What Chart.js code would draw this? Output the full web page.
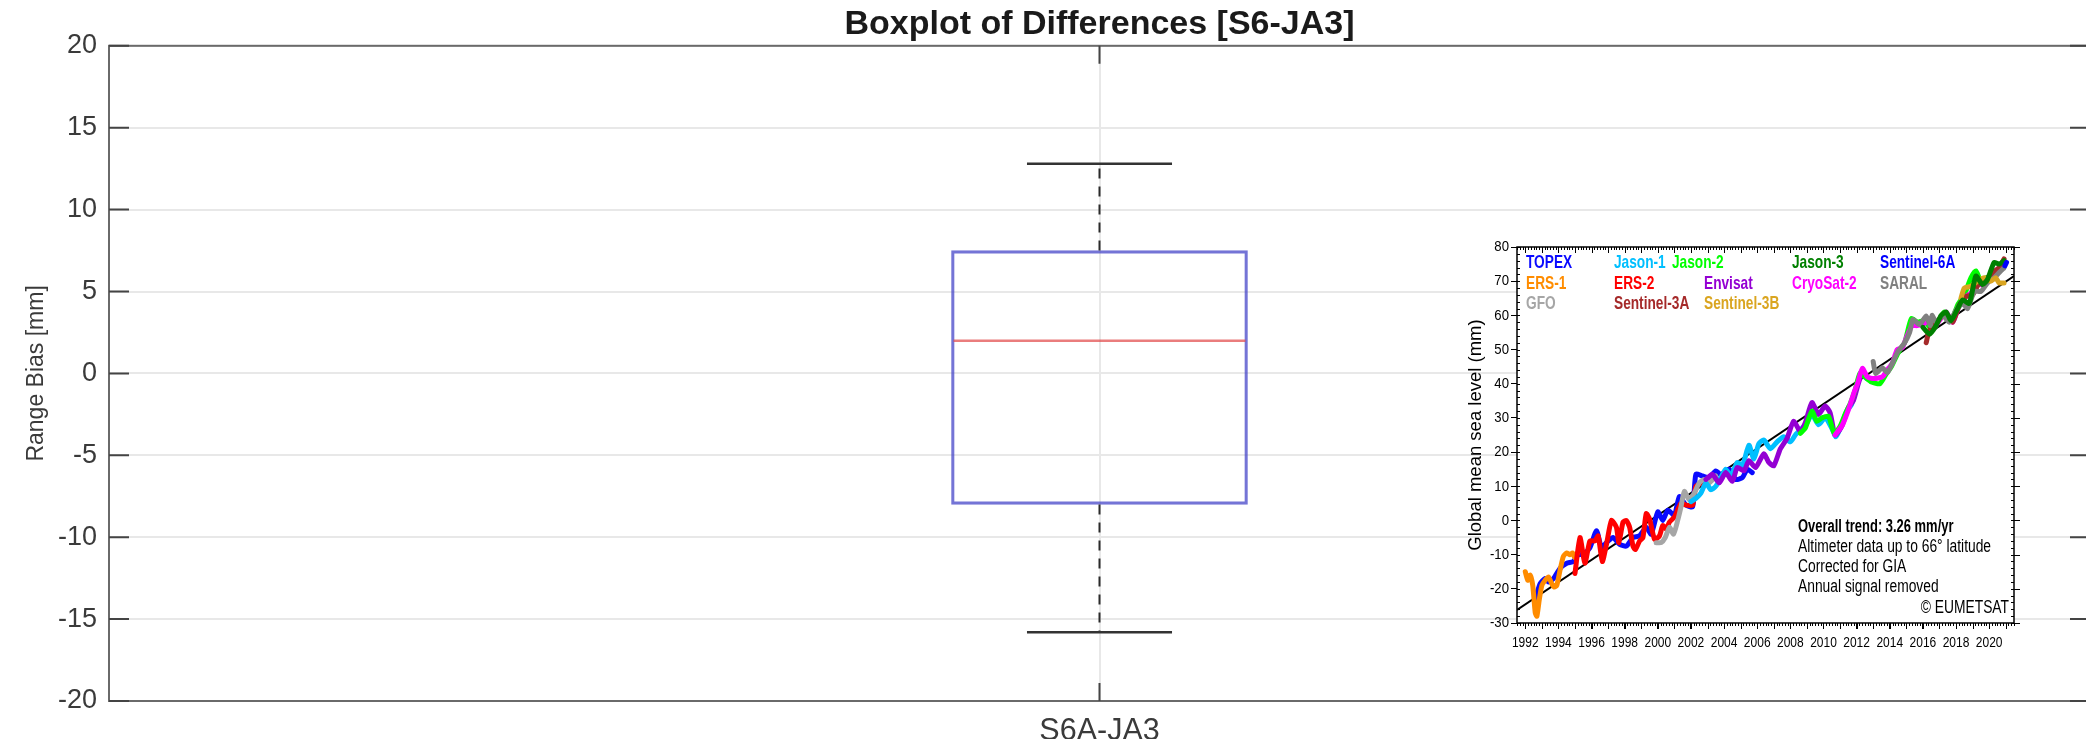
<!DOCTYPE html>
<html>
<head>
<meta charset="utf-8">
<script src="https://cdn.jsdelivr.net/npm/chart.js@4.4.0/dist/chart.umd.min.js"></script>
<style>
  html, body { margin: 0; padding: 0; background: #fff; overflow: hidden; }
  #main { position: absolute; left: 0; top: 0; width: 2100px; height: 739px; }
  #inset { position: absolute; left: 1440px; top: 230px; width: 590px; height: 430px; }
</style>
</head>
<body>
<div id="main"><canvas id="boxChart"></canvas></div>
<div id="inset"><canvas id="gmslChart"></canvas></div>
<script>
// ---- boxplot values ----
const boxLabels = ['S6A-JA3'];
const boxMin = [-15.8];
const boxQ1 = [-8];
const boxMedian = [2];
const boxQ3 = [7.5];
const boxMax = [12.8];

// ---- inset: global mean sea level (year, mm) ----
const insetYears = [1992, 1994, 1996, 1998, 2000, 2002, 2004, 2006, 2008, 2010, 2012, 2014, 2016, 2018, 2020];
const insetLevels = [-30, -20, -10, 0, 10, 20, 30, 40, 50, 60, 70, 80];
const trendLine = [[1991.5, -26.2], [2021.5, 71.5]];

const topex = [[1992.6,-23],[1992.9,-18.5],[1993.2,-17],[1993.4,-18],[1993.7,-17],[1994.1,-14],[1994.5,-12.5],[1994.9,-12],
  [1995.2,-10],[1995.5,-10],[1995.9,-8],[1996.3,-3],[1996.6,-8],[1996.9,-6.5],[1997.3,-5],[1997.7,-7],[1998.1,-7.5],
  [1998.5,-5],[1998.9,-4.5],[1999.3,-2],[1999.6,-4],[2000.0,2.5],[2000.3,0],[2000.6,3],[2001.0,1.5],[2001.3,7],
  [2001.7,4.5],[2002.1,4],[2002.3,13.5],[2002.7,13],[2003.1,12.5],[2003.5,14.5],[2003.9,13],[2004.3,15],[2004.7,12],
  [2005.1,12.5],[2005.4,15],[2005.7,14]];
const ers1 = [[1992.0,-15],[1992.15,-17.5],[1992.3,-16],[1992.45,-19],[1992.6,-27],[1992.7,-28],[1992.85,-23],[1993.0,-19],
  [1993.2,-17.5],[1993.4,-16.5],[1993.6,-18.5],[1993.75,-19.5],[1993.9,-19],[1994.1,-14.5],[1994.3,-10.5],[1994.5,-9.5],
  [1994.7,-10],[1994.85,-9.5],[1995.0,-11],[1995.15,-9.5]];
const gfo = [[1999.9,-6.5],[2000.2,-6.5],[2000.45,-5],[2000.7,-2],[2000.95,-4],[2001.2,0],[2001.4,4],[2001.6,8.5],
  [2001.9,6],[2002.2,8],[2002.5,11],[2002.8,12],[2003.1,11],[2003.5,13]];
const jason1 = [[2002.0,5.5],[2002.3,6.5],[2002.6,8],[2002.9,11],[2003.2,9],[2003.5,10],[2003.8,12.5],[2004.1,15],
  [2004.4,13],[2004.8,17],[2005.1,16],[2005.5,22],[2005.8,18],[2006.1,22.5],[2006.4,23.5],[2006.8,21],[2007.2,23],
  [2007.6,24.5],[2008.0,23],[2008.3,25],[2008.7,27],[2009.0,28.5],[2009.3,31],[2009.7,28],[2010.1,30],[2010.5,27],
  [2010.75,24.5],[2011.1,28],[2011.4,32],[2011.7,34],[2012.0,39],[2012.3,43.5],[2012.6,41.5],[2013.0,41]];
const ers2 = [[1995.0,-15.5],[1995.3,-5],[1995.6,-12.5],[1995.9,-6],[1996.2,-6],[1996.4,-4.5],[1996.65,-12],[1996.9,-7],
  [1997.2,0],[1997.5,-2],[1997.65,-6.5],[1997.9,-0.5],[1998.1,0],[1998.3,-2],[1998.5,-7.5],[1998.65,-8.5],[1998.9,-6],
  [1999.1,-5],[1999.3,2],[1999.5,0.5],[1999.8,-5.5],[2000.1,-4.5],[2000.3,-1.5],[2000.5,-2.5],[2000.7,-0.5],[2001.0,1],
  [2001.4,5],[2001.7,4.5],[2002.1,4.5],[2002.3,10],[2002.7,11],[2003.0,11.5]];
const sentinel3a = [[2016.2,52],[2016.35,55],[2016.6,57],[2017.0,59],[2017.4,60.5],[2017.8,58],[2018.2,63],[2018.6,65.5],
  [2019.0,66],[2019.4,69.5],[2019.8,70.5],[2020.2,72.5],[2020.6,74],[2020.9,76.5]];
const jason2 = [[2008.6,25.5],[2008.9,27],[2009.3,32],[2009.6,29],[2009.9,30],[2010.3,30.5],[2010.65,25.5],[2011.0,27.5],
  [2011.3,31],[2011.6,34],[2011.9,38],[2012.2,43],[2012.5,42],[2012.9,40.5],[2013.4,40],[2013.8,43],[2014.1,45],
  [2014.5,49],[2014.9,52],[2015.3,59],[2015.7,58],[2016.1,58.5],[2016.5,56],[2016.9,58],[2017.3,61],[2017.7,58.5],
  [2018.1,63],[2018.5,66],[2018.9,71],[2019.2,73],[2019.5,70],[2019.8,71]];
const envisat = [[2002.9,12],[2003.3,13.5],[2003.7,11],[2004.1,14],[2004.5,11.5],[2004.8,15.5],[2005.2,14.5],[2005.5,17.5],
  [2005.9,15.5],[2006.4,19.5],[2006.7,17],[2007.0,16],[2007.4,21],[2007.8,24],[2008.2,29],[2008.6,26],[2008.9,28.5],
  [2009.3,34.5],[2009.7,31],[2010.1,33.5],[2010.4,31.5],[2010.7,25],[2011.1,27.5],[2011.5,33],[2011.8,35],[2012.1,40],
  [2012.3,43]];
const sentinel3b = [[2018.3,65],[2018.5,68],[2018.9,68.5],[2019.3,70],[2019.7,71],[2020.1,70],[2020.4,71],[2020.6,69.5],
  [2020.9,69.5]];
const jason3 = [[2016.0,56.5],[2016.4,54.5],[2016.8,57],[2017.1,60],[2017.4,61],[2017.7,58.5],[2018.1,62],[2018.4,64.5],
  [2018.8,63.5],[2019.2,71.5],[2019.6,69],[2019.9,70.5],[2020.3,75.5],[2020.6,75],[2020.9,76]];
const cryosat2 = [[2010.7,25],[2011.15,28],[2011.55,33],[2011.85,37.5],[2012.05,40],[2012.35,44.5],[2012.65,42],
  [2013.05,41.5],[2013.55,42],[2013.85,44],[2014.15,46],[2014.45,50],[2014.75,50.5],[2015.05,54],[2015.35,57],
  [2015.65,57],[2016.05,57.5],[2016.35,58.5],[2016.7,56.5],[2017.0,58.5],[2017.4,61],[2017.8,58],[2018.2,63],
  [2018.6,65.5],[2018.9,66.5],[2019.2,69],[2019.6,69],[2020.0,71],[2020.4,73],[2020.8,74.5]];
const sentinel6a = [[2020.95,74.5],[2021.05,75.5]];
const saral = [[2013.0,46.5],[2013.15,43],[2013.55,44.7],[2013.85,43.2],[2014.25,47],[2014.5,49.5],[2014.9,52],
  [2015.2,55],[2015.4,58.8],[2015.8,57.3],[2016.2,59.8],[2016.45,57],[2016.55,60],[2016.8,58],[2017.2,60],[2017.6,58],
  [2018.0,61.5],[2018.4,63.5],[2018.7,62],[2019.1,67],[2019.5,67],[2019.9,69.5],[2020.3,71],[2020.6,72.5],[2020.9,73.9]];

// legend order (column by column) and colours
const missionNames = ['TOPEX','ERS-1','GFO','Jason-1','ERS-2','Sentinel-3A','Jason-2','Envisat','Sentinel-3B',
  'Jason-3','CryoSat-2','Sentinel-6A','SARAL'];
const missionColors = ['#0a0aff','#ff8c00','#a6a6a6','#00bfff','#ff0000','#a52a2a','#00ff00','#9400d3','#daa520',
  '#008000','#ff00ff','#0000ff','#808080'];
const missionSeries = [topex, ers1, gfo, jason1, ers2, sentinel3a, jason2, envisat, sentinel3b, jason3, cryosat2,
  sentinel6a, saral];
// stacking: higher is drawn on top
const missionLayer = [1, 2, 4, 5, 3, 9, 7, 6, 11, 12, 8, 13, 10];
// legend text placement inside the inset frame (px from its top-left)
const legendX = [9, 9, 9, 97, 97, 97, 155, 187, 187, 275, 275, 363, 363];
const legendRow = [0, 1, 2, 0, 1, 2, 0, 1, 2, 0, 1, 0, 1];

const insetNotes = ['Overall trend: 3.26 mm/yr', 'Altimeter data up to 66\u00b0 latitude', 'Corrected for GIA',
  'Annual signal removed'];
const insetCredit = '\u00a9 EUMETSAT';

const sans = "'Liberation Sans', Arial, Helvetica, sans-serif";

// the inset uses a condensed Helvetica; squeeze Liberation Sans horizontally
function narrowText(ctx, text, x, y, align, squeeze) {
  ctx.save();
  ctx.translate(x, y);
  ctx.scale(squeeze, 1);
  ctx.textAlign = align;
  ctx.fillText(text, 0, 0);
  ctx.restore();
}

// ---------- main boxplot ----------
const boxParts = {
  id: 'boxParts',
  afterDatasetsDraw(chart) {
    const ctx = chart.ctx;
    const y = chart.scales.y;
    const meta = chart.getDatasetMeta(0);
    ctx.save();
    meta.data.forEach((bar, i) => {
      const half = bar.width / 2;
      const cap = bar.width * 0.245;
      // whiskers
      ctx.strokeStyle = '#2a2a2a';
      ctx.lineWidth = 2;
      ctx.setLineDash([10, 8]);
      ctx.beginPath();
      ctx.moveTo(bar.x, y.getPixelForValue(boxQ3[i]));
      ctx.lineTo(bar.x, y.getPixelForValue(boxMax[i]));
      ctx.moveTo(bar.x, y.getPixelForValue(boxQ1[i]));
      ctx.lineTo(bar.x, y.getPixelForValue(boxMin[i]));
      ctx.stroke();
      ctx.setLineDash([]);
      // caps
      ctx.strokeStyle = '#333';
      ctx.lineWidth = 2.5;
      ctx.beginPath();
      [boxMax[i], boxMin[i]].forEach(v => {
        const py = y.getPixelForValue(v);
        ctx.moveTo(bar.x - cap, py);
        ctx.lineTo(bar.x + cap, py);
      });
      ctx.stroke();
      // median
      ctx.strokeStyle = 'rgba(225,70,70,0.7)';
      ctx.lineWidth = 2.5;
      const my = y.getPixelForValue(boxMedian[i]);
      ctx.beginPath();
      ctx.moveTo(bar.x - half + 2, my);
      ctx.lineTo(bar.x + half - 2, my);
      ctx.stroke();
    });
    ctx.restore();
  },
  afterDraw(chart) {
    const {ctx, chartArea: a, scales: {x, y}} = chart;
    ctx.save();
    ctx.strokeStyle = '#6a6a6a';
    ctx.lineWidth = 2;
    ctx.strokeRect(a.left, a.top, a.right - a.left, a.bottom - a.top);
    ctx.strokeStyle = '#444';
    ctx.beginPath();
    y.ticks.forEach(t => {
      const py = y.getPixelForValue(t.value);
      ctx.moveTo(a.left, py); ctx.lineTo(a.left + 20, py);
      ctx.moveTo(a.right - 20, py); ctx.lineTo(a.right, py);
    });
    x.ticks.forEach((t, i) => {
      const px = x.getPixelForTick(i);
      ctx.moveTo(px, a.top); ctx.lineTo(px, a.top + 18);
      ctx.moveTo(px, a.bottom - 18); ctx.lineTo(px, a.bottom);
    });
    ctx.stroke();
    ctx.restore();
  }
};

new Chart(document.getElementById('boxChart'), {
  type: 'bar',
  data: {
    labels: boxLabels,
    datasets: [{
      data: boxQ1.map((q, i) => [q, boxQ3[i]]),
      backgroundColor: 'rgba(0,0,0,0)',
      borderColor: 'rgba(70,70,200,0.75)',
      borderWidth: 2.5,
      borderSkipped: false,
      barThickness: 296
    }]
  },
  options: {
    responsive: true,
    maintainAspectRatio: false,
    animation: false,
    layout: { padding: { left: 0, right: 10, top: 0, bottom: 0 } },
    plugins: {
      legend: { display: false },
      tooltip: { enabled: false },
      title: {
        display: true,
        text: 'Boxplot of Differences [S6-JA3]',
        fullSize: false,
        color: '#1a1a1a',
        font: { family: sans, size: 34, weight: 'bold' },
        padding: { top: 4, bottom: 1 }
      }
    },
    scales: {
      x: {
        grid: { offset: false, color: '#e8e8e8', lineWidth: 2, drawTicks: false },
        border: { display: false },
        ticks: { color: '#3a3a3a', font: { family: sans, size: 30.5 }, padding: 12 },
        afterFit(scale) { scale.height = 38; }
      },
      y: {
        min: -20,
        max: 20,
        ticks: { stepSize: 5, color: '#3a3a3a', font: { family: sans, size: 27 }, padding: 12 },
        grid: { color: '#e8e8e8', lineWidth: 2, drawTicks: false },
        border: { display: false },
        title: {
          display: true,
          text: 'Range Bias [mm]',
          color: '#3a3a3a',
          font: { family: sans, size: 23 },
          padding: { top: 23, bottom: 0 }
        },
        afterFit(scale) { scale.width = 109; }
      }
    }
  },
  plugins: [boxParts]
});

// ---------- inset: GMSL ----------
const insetDecor = {
  id: 'insetDecor',
  beforeDraw(chart) {
    const {ctx, chartArea: a} = chart;
    ctx.save();
    ctx.fillStyle = '#fff';
    ctx.fillRect(a.left, a.top, a.right - a.left, a.bottom - a.top);
    ctx.restore();
  },
  afterDraw(chart) {
    const {ctx, chartArea: a, scales: {x, y}} = chart;
    ctx.save();
    ctx.strokeStyle = '#000';
    ctx.lineWidth = 1.5;
    ctx.strokeRect(a.left, a.top, a.right - a.left, a.bottom - a.top);
    ctx.lineWidth = 1;
    ctx.beginPath();
    for (let m = Math.ceil(x.min * 6); m <= Math.floor(x.max * 6); m++) {
      const px = Math.round(x.getPixelForValue(m / 6)) + 0.5;
      const len = m % 6 === 0 ? 6 : 3;
      ctx.moveTo(px, a.top); ctx.lineTo(px, a.top + len);
      ctx.moveTo(px, a.bottom); ctx.lineTo(px, a.bottom + len);
    }
    for (let v = y.min; v <= y.max; v += 2) {
      const py = Math.round(y.getPixelForValue(v)) + 0.5;
      ctx.moveTo(a.left, py); ctx.lineTo(a.left + 3, py);
      ctx.moveTo(a.right - 3, py); ctx.lineTo(a.right, py);
      if (v % 10 === 0) { ctx.moveTo(a.right, py); ctx.lineTo(a.right + 6, py); }
    }
    ctx.stroke();

    // tick labels, squeezed
    ctx.fillStyle = '#000';
    ctx.textBaseline = 'middle';
    ctx.font = '15px ' + sans;
    x.ticks.forEach(t => {
      narrowText(ctx, String(t.value), x.getPixelForValue(t.value), a.bottom + 20, 'center', 0.8);
    });
    ctx.font = '15.5px ' + sans;
    y.ticks.forEach(t => {
      narrowText(ctx, String(t.value), a.left - 8, y.getPixelForValue(t.value), 'right', 0.85);
    });

    // legend block
    ctx.font = 'bold 18.5px ' + sans;
    const rowY = [16, 37, 57];
    missionNames.forEach((name, i) => {
      ctx.fillStyle = missionColors[i];
      narrowText(ctx, name, a.left + legendX[i], a.top + rowY[legendRow[i]], 'left', 0.74);
    });

    // notes
    ctx.fillStyle = '#000';
    insetNotes.forEach((line, i) => {
      ctx.font = (i === 0 ? 'bold ' : '') + '17.5px ' + sans;
      narrowText(ctx, line, a.left + 281, a.top + 280 + i * 20, 'left', i === 0 ? 0.74 : 0.79);
    });
    ctx.font = '17.5px ' + sans;
    narrowText(ctx, insetCredit, a.right - 5, a.top + 361, 'right', 0.79);
    ctx.restore();
  }
};

const insetDatasets = missionSeries.map((pts, i) => ({
  label: missionNames[i],
  data: pts.map(p => ({ x: p[0], y: p[1] })),
  borderColor: missionColors[i],
  borderWidth: 5,
  tension: 0.2,
  borderJoinStyle: 'round',
  borderCapStyle: 'round',
  pointRadius: 0,
  order: 20 - missionLayer[i]
}));
insetDatasets.push({
  label: 'trend',
  data: trendLine.map(p => ({ x: p[0], y: p[1] })),
  borderColor: '#000',
  borderWidth: 2,
  pointRadius: 0,
  order: 30
});

new Chart(document.getElementById('gmslChart'), {
  type: 'line',
  data: { datasets: insetDatasets },
  options: {
    responsive: true,
    maintainAspectRatio: false,
    animation: false,
    layout: { padding: { left: 0, right: 16, top: 17, bottom: 0 } },
    plugins: { legend: { display: false }, tooltip: { enabled: false } },
    scales: {
      x: {
        type: 'linear',
        min: 1991.5,
        max: 2021.5,
        afterBuildTicks(scale) { scale.ticks = insetYears.map(v => ({ value: v })); },
        ticks: { display: false },
        grid: { drawOnChartArea: false, tickLength: 6, color: '#000', lineWidth: 1 },
        border: { display: false },
        afterFit(scale) { scale.height = 37; }
      },
      y: {
        min: -30,
        max: 80,
        afterBuildTicks(scale) { scale.ticks = insetLevels.map(v => ({ value: v })); },
        ticks: { display: false },
        grid: { drawOnChartArea: false, tickLength: 6, color: '#000', lineWidth: 1 },
        border: { display: false },
        title: {
          display: true,
          text: 'Global mean sea level (mm)',
          color: '#000',
          font: { family: sans, size: 18.5 },
          padding: { top: 25, bottom: 0 }
        },
        afterFit(scale) { scale.width = 77; }
      }
    }
  },
  plugins: [insetDecor]
});
</script>
</body>
</html>
